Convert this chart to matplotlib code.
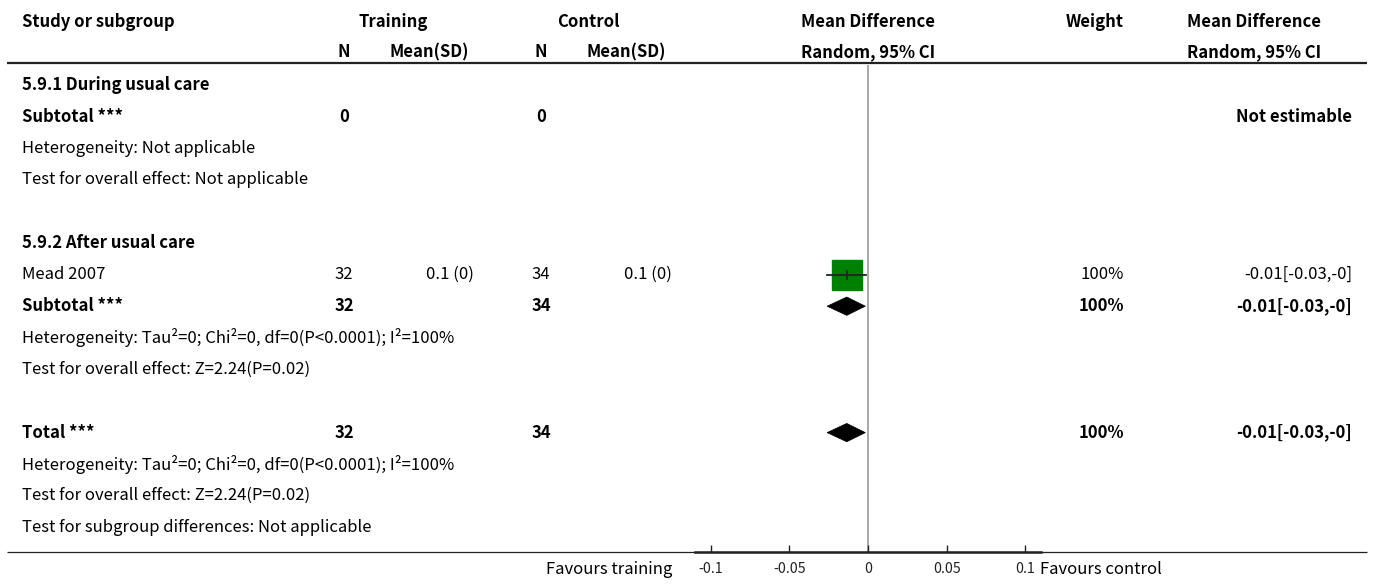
import matplotlib
matplotlib.use("Agg")
import matplotlib.pyplot as plt
from matplotlib.patches import Polygon

plt.rcParams['font.family'] = ['Noto Sans CJK SC', 'DejaVu Sans']

# ---------------- data ----------------
row_labels = [
    "5.9.1 During usual care",
    "Subtotal ***",
    "Heterogeneity: Not applicable",
    "Test for overall effect: Not applicable",
    "",
    "5.9.2 After usual care",
    "Mead 2007",
    "Subtotal ***",
    "Heterogeneity: Tau\u00b2=0; Chi\u00b2=0, df=0(P<0.0001); I\u00b2=100%",
    "Test for overall effect: Z=2.24(P=0.02)",
    "",
    "Total ***",
    "Heterogeneity: Tau\u00b2=0; Chi\u00b2=0, df=0(P<0.0001); I\u00b2=100%",
    "Test for overall effect: Z=2.24(P=0.02)",
    "Test for subgroup differences: Not applicable",
]
row_bold = [1, 1, 0, 0, 0, 1, 0, 1, 0, 0, 0, 1, 0, 0, 0]
train_n = ["", "0", "", "", "", "", "32", "32", "", "", "", "32", "", "", ""]
train_msd = ["", "", "", "", "", "", "0.1 (0)", "", "", "", "", "", "", "", ""]
ctrl_n = ["", "0", "", "", "", "", "34", "34", "", "", "", "34", "", "", ""]
ctrl_msd = ["", "", "", "", "", "", "0.1 (0)", "", "", "", "", "", "", "", ""]
weights = ["", "", "", "", "", "", "100%", "100%", "", "", "", "100%", "", "", ""]
ci_text = ["", "Not estimable", "", "", "", "", "-0.01[-0.03,-0]", "-0.01[-0.03,-0]",
           "", "", "", "-0.01[-0.03,-0]", "", "", ""]

# study estimates (row index, mean, lower, upper)
study_rows = [6]
study_mean = [-0.0135]
study_lo = [-0.026]
study_hi = [-0.001]

# pooled (diamond) estimates
pool_rows = [7, 11]
pool_mean = [-0.0135, -0.0135]
pool_lo = [-0.026, -0.026]
pool_hi = [-0.0017, -0.0017]

xticks = [-0.1, -0.05, 0, 0.05, 0.1]
xtick_labels = ["-0.1", "-0.05", "0", "0.05", "0.1"]

# ---------------- layout ----------------
W, H = 1373, 584
fig = plt.figure(figsize=(W / 100, H / 100), dpi=100)
ax = fig.add_axes([0, 0, 1, 1])
ax.set_xlim(0, W)
ax.set_ylim(H, 0)
ax.axis('off')

FS = 12
ROW0, ROWH = 85, 31.6

def ry(k):
    return ROW0 + ROWH * k

# headers
hb = dict(fontsize=FS, fontweight='bold', va='center')
ax.text(22, 22, "Study or subgroup", ha='left', **hb)
ax.text(393, 22, "Training", ha='center', **hb)
ax.text(588, 22, "Control", ha='center', **hb)
ax.text(868, 22, "Mean Difference", ha='center', **hb)
ax.text(1095, 22, "Weight", ha='center', **hb)
ax.text(1254, 22, "Mean Difference", ha='center', **hb)
ax.text(344, 52, "N", ha='center', **hb)
ax.text(469, 52, "Mean(SD)", ha='right', **hb)
ax.text(541, 52, "N", ha='center', **hb)
ax.text(666, 52, "Mean(SD)", ha='right', **hb)
ax.text(868, 52, "Random, 95% CI", ha='center', **hb)
ax.text(1254, 52, "Random, 95% CI", ha='center', **hb)

ax.plot([7, 1367], [63, 63], color='#222222', lw=1.6, solid_capstyle='butt')
ax.plot([7, 1367], [552, 552], color='#222222', lw=0.9, solid_capstyle='butt')

for k, lab in enumerate(row_labels):
    y = ry(k)
    fw = 'bold' if row_bold[k] else 'normal'
    kw = dict(fontsize=FS, fontweight=fw, va='center')
    if lab:
        ax.text(22, y, lab, ha='left', **kw)
    if train_n[k]:
        ax.text(344, y, train_n[k], ha='center', **kw)
    if train_msd[k]:
        ax.text(474, y, train_msd[k], ha='right', **kw)
    if ctrl_n[k]:
        ax.text(541, y, ctrl_n[k], ha='center', **kw)
    if ctrl_msd[k]:
        ax.text(672, y, ctrl_msd[k], ha='right', **kw)
    if weights[k]:
        ax.text(1124, y, weights[k], ha='right', **kw)
    if ci_text[k]:
        ax.text(1352, y, ci_text[k], ha='right', **kw)

# ---------------- forest axes ----------------
x0, x1 = 695, 1041
ytop, ybot = 65, 552
axf = fig.add_axes([x0 / W, (H - ybot) / H, (x1 - x0) / W, (ybot - ytop) / H])
axf.set_xlim(-0.11, 0.11)
axf.set_ylim((ybot - ROW0) / ROWH, (ytop - ROW0) / ROWH)
axf.patch.set_alpha(0)
for s in ['top', 'left', 'right']:
    axf.spines[s].set_visible(False)
axf.spines['bottom'].set_linewidth(1.8)
axf.spines['bottom'].set_color('#222222')
axf.set_yticks([])
axf.set_xticks(xticks)
axf.set_xticklabels(xtick_labels)
axf.tick_params(axis='x', direction='in', length=5, width=1.0, labelsize=10.2, pad=7,
                colors='#222222')

axf.axvline(0, color='#999999', lw=1.2, zorder=1)

for r, m, lo, hi in zip(study_rows, study_mean, study_lo, study_hi):
    axf.plot([m], [r], marker='s', ms=22, color='#008000', mec='#008000', zorder=2)
    axf.plot([lo, hi], [r, r], color='#222222', lw=1.3, zorder=3)
    axf.plot([m], [r], marker='|', ms=7, mew=1.3, color='#222222', zorder=3)

for r, m, lo, hi in zip(pool_rows, pool_mean, pool_lo, pool_hi):
    d = 0.29
    axf.add_patch(Polygon([(lo, r), (m, r - d), (hi, r), (m, r + d)], closed=True,
                          facecolor='black', edgecolor='black', lw=0.5, zorder=3))

ax.text(672, 570, "Favours training", ha='right', va='center', fontsize=FS)
ax.text(1040, 570, "Favours control", ha='left', va='center', fontsize=FS)

fig.savefig("out.png", dpi=100)
